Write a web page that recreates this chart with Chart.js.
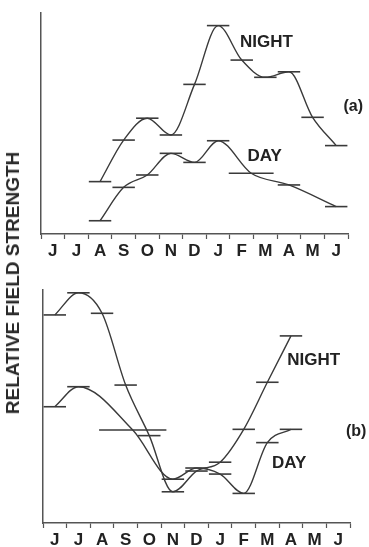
<!DOCTYPE html>
<html>
<head>
<meta charset="utf-8">
<script src="https://cdn.jsdelivr.net/npm/chart.js@4.4.1/dist/chart.umd.min.js"></script>
<style>
  html, body { margin: 0; padding: 0; background: #fff; }
  #wrap { position: relative; width: 369px; height: 547px; overflow: hidden; }
  .panel { position: absolute; left: 0; width: 369px; }
  #ytitle {
    position: absolute; left: 13px; top: 283px;
    transform: translate(-50%, -50%) rotate(-90deg);
    white-space: nowrap;
    font: bold 19px "Liberation Sans", Arial, sans-serif;
    color: #2a2a2a;
  }
</style>
</head>
<body>
<div id="wrap">
  <div class="panel" style="top:0;height:262px"><canvas id="chart_a"></canvas></div>
  <div class="panel" style="top:262px;height:285px"><canvas id="chart_b"></canvas></div>
  <div id="ytitle">RELATIVE FIELD STRENGTH</div>
</div>
<script>
const months = ["J", "J", "A", "S", "O", "N", "D", "J", "F", "M", "A", "M", "J"];

// (a) month index, relative strength, months covered by the reading
const a_night_x = [2, 3, 4, 5, 6, 7, 8, 9, 10, 11, 12];
const a_night_y = [23.7, 42.5, 52.4, 44.8, 67.7, 94.3, 78.7, 70.9, 73.4, 52.8, 40.0];
const a_night_span = [1, 1, 1, 1, 1, 1, 1, 1, 1, 1, 1];
const a_day_x = [2, 3, 4, 5, 6, 7, 8.4, 10, 12];
const a_day_y = [6.0, 21.1, 26.7, 36.5, 32.4, 42.2, 27.5, 22.2, 12.4];
const a_day_span = [1, 1, 1, 1, 1, 1, 2, 1, 1];

// (b)
const b_night_x = [0, 1, 2, 3, 4, 5, 6, 7, 8, 9, 10];
const b_night_y = [89.3, 98.8, 90.0, 59.2, 37.5, 13.4, 22.3, 26.1, 40.2, 60.4, 80.3];
const b_night_span = [1, 1, 1, 1, 1, 1, 1, 1, 1, 1, 1];
const b_day_x = [0, 1, 3.3, 5, 6, 7, 8, 9, 10];
const b_day_y = [49.9, 58.5, 39.9, 18.8, 23.6, 21.0, 12.7, 34.5, 40.2];
const b_day_span = [1, 1, 3, 1, 1, 1, 1, 1, 1];

const ink = "#3a3a3a";
const font = "bold 17px 'Liberation Sans', Arial, sans-serif";

function toPoints(xs, ys) {
  return xs.map((x, i) => ({ x: x, y: ys[i] }));
}

function makeSeries(xs, ys, span) {
  return {
    data: toPoints(xs, ys),
    borderColor: ink,
    borderWidth: 1.4,
    cubicInterpolationMode: "monotone",
    pointStyle: "line",
    pointBorderColor: ink,
    pointBorderWidth: 1.6,
    pointRadius: (c) => {
      const s = c.chart.scales.x;
      const w = Math.abs(s.getPixelForValue(1) - s.getPixelForValue(0));
      return (w * span[c.dataIndex]) / 2 * 0.95;
    },
    pointHoverRadius: 0,
    clip: false,
  };
}

// draws the text labels at value positions
const textLabels = {
  id: "textLabels",
  afterDatasetsDraw(chart, args, opts) {
    const { ctx, scales } = chart;
    ctx.save();
    ctx.fillStyle = "#222";
    ctx.textAlign = "center";
    ctx.textBaseline = "middle";
    opts.items.forEach((t) => {
      ctx.font = t.font || font;
      ctx.fillText(t.text, scales.x.getPixelForValue(t.x), scales.y.getPixelForValue(t.y));
    });
    ctx.restore();
  },
};

function makeConfig(series, items, pad, yWidth, xHeight) {
  return {
    type: "line",
    data: { datasets: series },
    options: {
      responsive: true,
      maintainAspectRatio: false,
      animation: false,
      events: [],
      layout: { padding: pad },
      plugins: {
        legend: { display: false },
        tooltip: { enabled: false },
        textLabels: { items: items },
      },
      scales: {
        x: {
          type: "linear",
          min: -0.5,
          max: 12.5,
          afterBuildTicks: (axis) => {
            const t = [];
            for (let v = -0.5; v <= 12.5; v += 0.5) t.push({ value: v });
            axis.ticks = t;
          },
          afterFit: (s) => { s.height = xHeight; },
          border: { display: true, color: "#555", width: 1.5 },
          grid: {
            drawOnChartArea: false,
            tickLength: 5,
            tickWidth: 1.2,
            tickColor: (c) => (c.tick && c.tick.value % 1 !== 0 ? "#555" : "transparent"),
          },
          ticks: {
            autoSkip: false,
            maxRotation: 0,
            padding: 2,
            color: "#222",
            font: { family: "'Liberation Sans', Arial, sans-serif", size: 17, weight: "bold" },
            callback: (v) => (v % 1 === 0 ? months[v] : ""),
          },
        },
        y: {
          min: 0,
          max: 100,
          afterFit: (s) => { s.width = yWidth; },
          border: { display: true, color: "#555", width: 1.5 },
          grid: { display: false },
          ticks: { display: false },
        },
      },
    },
    plugins: [textLabels],
  };
}

window.onload = function () {
  new Chart(
    document.getElementById("chart_a").getContext("2d"),
    makeConfig(
      [makeSeries(a_night_x, a_night_y, a_night_span), makeSeries(a_day_x, a_day_y, a_day_span)],
      [
        { text: "NIGHT", x: 9.05, y: 86.7 },
        { text: "DAY", x: 8.97, y: 35.3 },
        { text: "(a)", x: 12.72, y: 57.5, font: "bold 16px 'Liberation Sans', Arial, sans-serif" },
      ],
      { top: 13, right: 21, left: 0, bottom: 0 },
      41,
      28
    )
  );
  new Chart(
    document.getElementById("chart_b").getContext("2d"),
    makeConfig(
      [makeSeries(b_night_x, b_night_y, b_night_span), makeSeries(b_day_x, b_day_y, b_day_span)],
      [
        { text: "NIGHT", x: 10.96, y: 70.0 },
        { text: "DAY", x: 9.92, y: 25.5 },
        { text: "(b)", x: 12.76, y: 39.1, font: "bold 16px 'Liberation Sans', Arial, sans-serif" },
      ],
      { top: 28, right: 19, left: 0, bottom: 0 },
      43,
      24
    )
  );
};
</script>
</body>
</html>
